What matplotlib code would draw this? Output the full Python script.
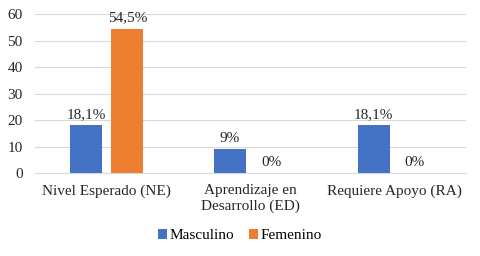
import numpy as np
import matplotlib
matplotlib.use("Agg")
from matplotlib import pyplot as plt

categories = ["Nivel Esperado (NE)", "Aprendizaje en\nDesarrollo (ED)", "Requiere Apoyo (RA)"]
masculino = [18.1, 9, 18.1]
femenino = [54.5, 0, 0]
masc_labels = ["18,1%", "9%", "18,1%"]
fem_labels = ["54,5%", "0%", "0%"]

FONT = 'Liberation Serif'
plt.rcParams['font.family'] = [FONT]

fig = plt.figure(figsize=(4.8, 2.56), dpi=100)
ax = fig.add_axes([0.073, 0.324, 0.898, 0.621])

x = np.arange(len(categories))
w = 0.223
off = 0.143
b1 = ax.bar(x - off, masculino, w, color='#4472C4', label='Masculino', zorder=3)
b2 = ax.bar(x + off, femenino, w, color='#ED7D31', label='Femenino', zorder=3)
ax.bar_label(b1, labels=masc_labels, padding=3, fontsize=11, color='#262626')
ax.bar_label(b2, labels=fem_labels, padding=3, fontsize=11, color='#262626')

ax.set_xlim(-0.5, 2.5)
ax.set_ylim(0, 60)
ax.set_yticks(range(0, 61, 10))
ax.set_xticks(x)
ax.set_xticklabels(categories, linespacing=1.25)
ax.tick_params(axis='both', length=0, labelsize=11, colors='#262626')
ax.tick_params(axis='x', pad=8)
ax.tick_params(axis='y', pad=9)
ax.yaxis.grid(True, color='#D9D9D9', lw=0.8, zorder=0)
for s in ['top', 'right', 'left']:
    ax.spines[s].set_visible(False)
ax.spines['bottom'].set_color('#D9D9D9')

fig.legend(handles=[b1, b2], loc='center', bbox_to_anchor=(0.5, 0.08), ncol=2,
           frameon=False, fontsize=11, handlelength=0.6,
           handleheight=0.6, handletextpad=0.15, columnspacing=1.0)

fig.savefig("out.png", dpi=100)
